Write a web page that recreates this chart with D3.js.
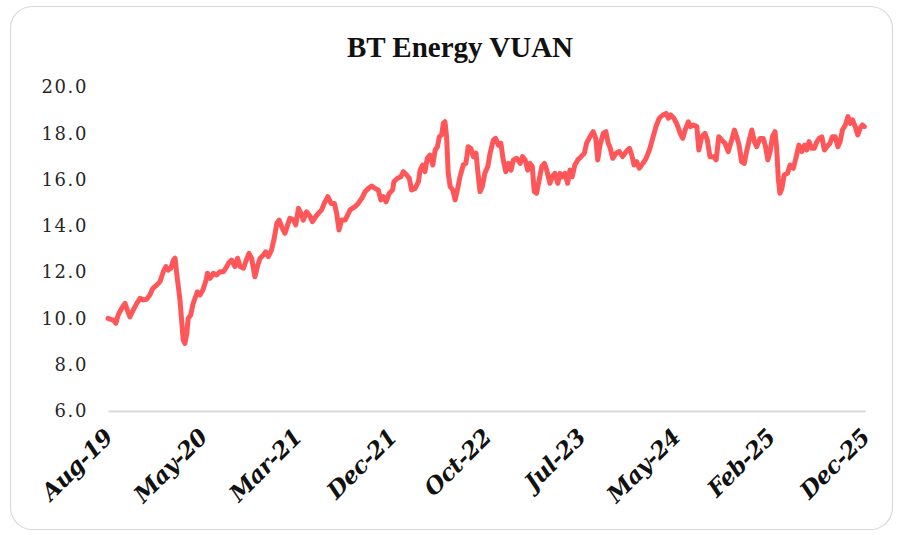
<!DOCTYPE html>
<html>
<head>
<meta charset="utf-8">
<script src="https://cdn.jsdelivr.net/npm/d3@7"></script>
<style>
  html, body { margin: 0; padding: 0; background: #fff; }
  svg { display: block; }
</style>
</head>
<body>
<div id="chart"></div>
<script>
"use strict";

const chartTitle = "BT Energy VUAN";

// price series (dates and values kept apart)
const dates = [
  "2019-08-01","2019-08-17","2019-08-25","2019-09-01","2019-09-12","2019-09-22","2019-09-29","2019-10-07","2019-10-17","2019-10-28",
  "2019-11-07","2019-11-17","2019-11-27","2019-12-07","2019-12-16","2019-12-28","2020-01-07","2020-01-17","2020-01-25","2020-02-01",
  "2020-02-09","2020-02-17","2020-02-22","2020-02-27","2020-03-03","2020-03-08","2020-03-13","2020-03-18","2020-03-23","2020-03-29",
  "2020-04-02","2020-04-10","2020-04-16","2020-04-23","2020-04-30","2020-05-08","2020-05-17","2020-05-27","2020-05-31","2020-06-08",
  "2020-06-18","2020-06-28","2020-07-08","2020-07-19","2020-07-29","2020-08-03","2020-08-13","2020-08-23","2020-08-31","2020-09-08",
  "2020-09-18","2020-09-25","2020-10-05","2020-10-13","2020-10-23","2020-11-01","2020-11-08","2020-11-18","2020-11-25","2020-12-03",
  "2020-12-13","2020-12-21","2020-12-29","2021-01-05","2021-01-13","2021-01-23","2021-01-31","2021-02-07","2021-02-18","2021-02-25",
  "2021-03-05","2021-03-13","2021-03-20","2021-03-30","2021-04-10","2021-04-17","2021-04-27","2021-05-05","2021-05-15","2021-05-23",
  "2021-06-03","2021-06-13","2021-06-23","2021-06-30","2021-07-07","2021-07-15","2021-07-26","2021-08-05","2021-08-10","2021-08-25",
  "2021-09-04","2021-09-15","2021-09-25","2021-10-05","2021-10-15","2021-10-25","2021-11-04","2021-11-12","2021-11-20","2021-11-28",
  "2021-12-08","2021-12-18","2021-12-22","2022-01-01","2022-01-12","2022-01-20","2022-01-30","2022-02-07","2022-02-14","2022-02-25",
  "2022-03-07","2022-03-12","2022-03-20","2022-03-27","2022-04-03","2022-04-11","2022-04-20","2022-04-27","2022-05-04","2022-05-10",
  "2022-05-17","2022-05-22","2022-05-27","2022-06-01","2022-06-06","2022-06-12","2022-06-20","2022-06-27","2022-07-04","2022-07-12",
  "2022-07-22","2022-07-30","2022-08-06","2022-08-14","2022-08-22","2022-08-30","2022-09-04","2022-09-11","2022-09-18","2022-09-26",
  "2022-10-05","2022-10-12","2022-10-22","2022-10-29","2022-11-06","2022-11-14","2022-11-21","2022-11-29","2022-12-07","2022-12-15",
  "2022-12-22","2023-01-01","2023-01-12","2023-01-19","2023-01-27","2023-02-04","2023-02-11","2023-02-18","2023-02-24","2023-03-03",
  "2023-03-11","2023-03-19","2023-03-27","2023-04-03","2023-04-13","2023-04-20","2023-04-28","2023-05-07","2023-05-14","2023-05-21",
  "2023-05-29","2023-06-06","2023-06-13","2023-06-20","2023-06-28","2023-07-07","2023-07-17","2023-07-27","2023-08-03","2023-08-13",
  "2023-08-23","2023-08-31","2023-09-06","2023-09-13","2023-09-23","2023-10-01","2023-10-08","2023-10-13","2023-10-22","2023-11-01",
  "2023-11-11","2023-11-21","2023-12-02","2023-12-12","2023-12-19","2023-12-26","2024-01-03","2024-01-11","2024-01-22","2024-02-01",
  "2024-02-11","2024-02-21","2024-03-02","2024-03-12","2024-03-23","2024-04-02","2024-04-09","2024-04-16","2024-04-26","2024-05-06",
  "2024-05-15","2024-05-23","2024-05-30","2024-06-09","2024-06-16","2024-06-24","2024-07-05","2024-07-11","2024-07-20","2024-07-30",
  "2024-08-06","2024-08-14","2024-08-25","2024-09-02","2024-09-10","2024-09-19","2024-09-29","2024-10-09","2024-10-18","2024-10-28",
  "2024-11-04","2024-11-11","2024-11-19","2024-11-27","2024-12-04","2024-12-11","2024-12-20","2024-12-28","2025-01-04","2025-01-14",
  "2025-01-24","2025-01-31","2025-02-07","2025-02-14","2025-02-21","2025-03-01","2025-03-06","2025-03-11","2025-03-16","2025-03-22",
  "2025-03-29","2025-04-08","2025-04-16","2025-04-26","2025-05-06","2025-05-13","2025-05-22","2025-05-30","2025-06-06","2025-06-13",
  "2025-06-21","2025-06-29","2025-07-07","2025-07-14","2025-07-22","2025-07-30","2025-08-06","2025-08-16","2025-08-23","2025-09-01",
  "2025-09-09","2025-09-16","2025-09-23","2025-10-02","2025-10-10","2025-10-17","2025-10-24","2025-11-01","2025-11-09","2025-11-16",
  "2025-11-23","2025-11-29"
];

const prices = [
  10.00, 9.93, 9.79, 10.15, 10.44, 10.65, 10.36, 10.07, 10.36, 10.65,
  10.87, 10.80, 10.83, 11.01, 11.30, 11.44, 11.59, 12.02, 12.24, 12.09,
  12.17, 12.52, 12.60, 11.95, 11.37, 10.80, 9.93, 9.07, 8.92, 9.36,
  10.00, 10.15, 10.58, 10.87, 11.15, 11.01, 11.23, 11.66, 11.95, 11.73,
  11.95, 11.88, 12.02, 12.02, 12.24, 12.38, 12.52, 12.24, 12.60, 12.24,
  12.17, 12.45, 12.81, 12.60, 11.80, 12.31, 12.60, 12.74, 12.88, 12.67,
  12.96, 13.46, 14.11, 14.25, 13.96, 13.68, 14.04, 14.33, 14.25, 14.04,
  14.76, 14.54, 14.25, 14.61, 14.40, 14.18, 14.40, 14.54, 14.69, 14.97,
  15.26, 14.97, 14.97, 14.54, 13.82, 14.25, 14.25, 14.54, 14.69, 14.83,
  14.97, 15.19, 15.48, 15.62, 15.72, 15.62, 15.55, 15.12, 15.26, 15.04,
  15.41, 15.55, 15.91, 16.05, 16.12, 16.34, 16.20, 16.05, 15.55, 15.62,
  15.91, 16.41, 16.63, 16.34, 16.92, 17.06, 16.63, 17.28, 17.42, 17.85,
  17.93, 18.43, 18.50, 17.85, 16.27, 15.69, 15.55, 15.12, 15.55, 16.12,
  16.63, 16.70, 17.42, 17.35, 16.99, 17.14, 16.41, 15.48, 15.69, 16.27,
  16.56, 17.14, 17.71, 17.78, 17.49, 17.57, 16.85, 16.34, 16.70, 16.41,
  16.85, 16.92, 16.70, 16.99, 16.85, 16.41, 16.70, 16.56, 15.48, 15.41,
  15.98, 16.56, 16.70, 16.41, 15.84, 16.12, 16.27, 15.84, 16.27, 16.12,
  16.27, 15.84, 16.41, 16.12, 16.63, 16.85, 16.99, 17.14, 17.57, 17.85,
  18.07, 17.78, 16.85, 17.49, 18.00, 18.07, 17.57, 17.42, 16.92, 17.14,
  17.21, 16.99, 17.21, 17.35, 17.06, 16.63, 16.77, 16.49, 16.70, 16.92,
  17.28, 17.78, 18.29, 18.65, 18.79, 18.86, 18.65, 18.79, 18.65, 18.36,
  18.00, 17.78, 18.14, 18.50, 18.29, 18.36, 18.29, 17.28, 17.85, 18.00,
  17.71, 16.99, 16.99, 16.85, 17.85, 17.71, 17.57, 17.21, 17.64, 18.14,
  17.85, 17.49, 16.77, 16.70, 17.21, 17.64, 18.14, 17.64, 17.42, 17.78,
  17.78, 17.42, 16.85, 17.21, 17.85, 18.07, 17.35, 16.05, 15.41, 15.62,
  16.20, 16.27, 16.63, 16.49, 17.06, 17.49, 17.21, 17.49, 17.28, 17.64,
  17.35, 17.35, 17.64, 17.78, 17.85, 17.28, 17.42, 17.57, 17.85, 17.85,
  17.42, 17.64, 18.14, 18.36, 18.72, 18.43, 18.58, 18.29, 17.93, 18.22,
  18.36, 18.29
];

// axis settings
const xDomain = ["2019-08-01", "2025-12-01"];
const xTickDates = ["2019-08-01","2020-05-16","2021-03-01","2021-12-16","2022-10-01","2023-07-16","2024-05-01","2025-02-15","2025-12-01"];
const yTicks = [6, 8, 10, 12, 14, 16, 18, 20];

const width = 899, height = 535;
const margin = {top: 87, right: 34, bottom: 124, left: 108};
const plotW = width - margin.left - margin.right;
const plotH = height - margin.top - margin.bottom;

const parse = d3.timeParse("%Y-%m-%d");
const fmt = d3.timeFormat("%b-%y");

const data = dates.map((d, i) => ({date: parse(d), value: prices[i]}));

const svg = d3.select("#chart").append("svg")
  .attr("width", width).attr("height", height);

// card background with rounded border
svg.append("rect")
  .attr("x", 10.5).attr("y", 6.5)
  .attr("width", 882).attr("height", 523)
  .attr("rx", 22).attr("ry", 22)
  .attr("fill", "#fff")
  .attr("stroke", "#d9d9d9")
  .attr("stroke-width", 1.2);

svg.append("text")
  .attr("x", 460).attr("y", 57)
  .attr("text-anchor", "middle")
  .style("font-family", "'Liberation Serif', 'DejaVu Serif', serif")
  .style("font-weight", "bold")
  .style("font-size", "29px")
  .attr("fill", "#111")
  .text(chartTitle);

const x = d3.scaleTime().domain(xDomain.map(parse)).range([0, plotW]);
const y = d3.scaleLinear().domain([6, 20]).range([plotH, 0]);

const g = svg.append("g").attr("transform", "translate(" + margin.left + "," + margin.top + ")");

// y axis: labels only, no line
const yAxis = g.append("g")
  .call(d3.axisLeft(y).tickValues(yTicks).tickSize(0).tickPadding(20).tickFormat(d3.format(".1f")));
yAxis.select(".domain").remove();
yAxis.selectAll("text")
  .style("font-family", "'DejaVu Serif', serif")
  .style("font-size", "18px")
  .style("letter-spacing", "1.6px")
  .attr("fill", "#262626");

// x axis: baseline + rotated labels
const xAxis = g.append("g")
  .attr("transform", "translate(0," + plotH + ")")
  .call(d3.axisBottom(x).tickValues(xTickDates.map(parse)).tickSize(0).tickFormat(fmt));
xAxis.select(".domain")
  .attr("stroke", "#d9d9d9")
  .attr("stroke-width", 2);
xAxis.selectAll("text")
  .attr("text-anchor", "end")
  .attr("x", 0).attr("y", 0).attr("dy", "0.35em")
  .attr("transform", "translate(0,22) rotate(-45)")
  .style("font-family", "'DejaVu Serif', serif")
  .style("font-weight", "bold")
  .style("font-style", "italic")
  .style("font-size", "23px")
  .style("letter-spacing", "-0.5px")
  .attr("fill", "#111");

const line = d3.line()
  .x(d => x(d.date))
  .y(d => y(d.value));

g.append("path")
  .datum(data)
  .attr("fill", "none")
  .attr("stroke", "#ff5659")
  .attr("stroke-width", 5)
  .attr("stroke-linejoin", "round")
  .attr("stroke-linecap", "round")
  .attr("d", line);
</script>
</body>
</html>
